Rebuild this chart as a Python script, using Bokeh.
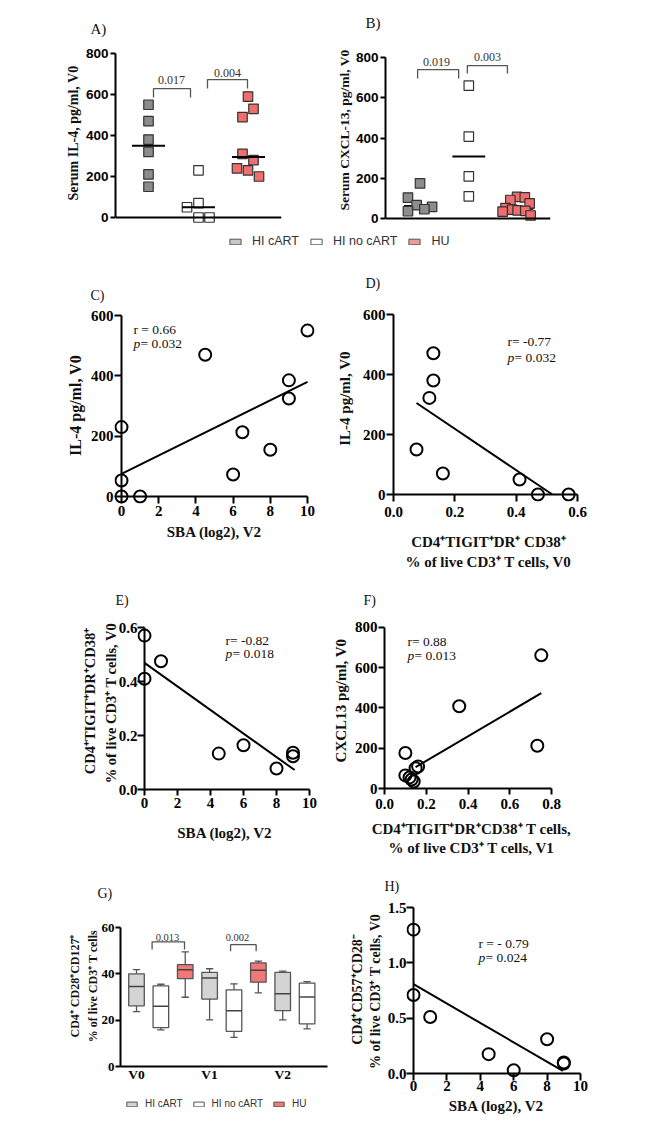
import math
from bokeh.plotting import figure
from bokeh.layouts import column, row
from bokeh.models import (Range1d, FixedTicker, NumeralTickFormatter, Label,
                          Legend, LegendItem, Title, Span)
from bokeh.embed import file_html
from bokeh.resources import INLINE

# ---------------------------------------------------------------- data
groups = ["HI cART", "HI no cART", "HU"]

# A) Serum IL-4, pg/ml, V0
a_hi_cart = [550, 470, 380, 320, 210, 150]
a_hi_no_cart = [230, 70, 50, 0, 0]
a_hu = [590, 530, 490, 310, 280, 240, 230, 200]
a_median = [350, 50, 295]
a_pvalues = ["0.017", "0.004"]
a_yticks = [0, 200, 400, 600, 800]

# B) Serum CXCL-13, pg/ml, V0
b_hi_cart = [175, 104, 66, 58, 46, 36]
b_hi_no_cart = [660, 407, 209, 110]
b_hu = [107, 105, 92, 75, 52, 44, 40, 38, 34, 15]
b_median = [62, 308, 48]
b_pvalues = ["0.019", "0.003"]
b_yticks = [0, 200, 400, 600, 800]

# C) IL-4 vs SBA
c_sba = [0, 0, 0, 1, 4.5, 6, 6.5, 8, 9, 9, 10]
c_il4 = [230, 53, 0, 0, 470, 73, 213, 155, 385, 325, 550]
c_fit_x = [0, 10]
c_fit_y = [75, 380]
c_stats = ["r = 0.66", "= 0.032"]
c_xticks = [0, 2, 4, 6, 8, 10]
c_yticks = [0, 200, 400, 600]

# D) IL-4 vs CD4+TIGIT+DR+CD38+
d_cells = [0.075, 0.117, 0.13, 0.13, 0.161, 0.411, 0.471, 0.571]
d_il4 = [150, 322, 471, 380, 70, 50, 0, 0]
d_fit_x = [0.075, 0.518]
d_fit_y = [305, 0]
d_stats = ["r= -0.77", "= 0.032"]
d_xticks = [0, 0.2, 0.4, 0.6]
d_yticks = [0, 200, 400, 600]

# E) CD4+TIGIT+DR+CD38+ vs SBA
e_sba = [0, 0, 1, 4.5, 6, 8, 9, 9]
e_cells = [0.57, 0.41, 0.475, 0.133, 0.164, 0.078, 0.136, 0.123]
e_fit_x = [0, 9.1]
e_fit_y = [0.469, 0.072]
e_stats = ["r= -0.82", "= 0.018"]
e_xticks = [0, 2, 4, 6, 8, 10]
e_yticks = [0, 0.2, 0.4, 0.6]

# F) CXCL13 vs CD4+TIGIT+DR+CD38+
f_cells = [0.10, 0.10, 0.12, 0.13, 0.14, 0.149, 0.161, 0.358, 0.732, 0.751]
f_cxcl13 = [176, 65, 55, 45, 35, 101, 109, 408, 212, 661]
f_fit_x = [0.149, 0.751]
f_fit_y = [106, 473]
f_stats = ["r= 0.88", "= 0.013"]
f_xticks = [0, 0.2, 0.4, 0.6, 0.8]
f_yticks = [0, 200, 400, 600, 800]

# G) CD4+CD28+CD127+ box plots
g_visits = ["V0", "V1", "V2"]
g_box_visit = [0, 0, 0, 1, 1, 1, 2, 2]
g_box_group = [0, 1, 2, 0, 1, 2, 0, 1]
g_max = [41.8, 35.5, 49.5, 42.2, 35.7, 45.5, 41.2, 36.6]
g_q3 = [40.0, 34.8, 44.0, 40.6, 33.1, 44.7, 40.6, 36.0]
g_med = [34.5, 26.0, 41.8, 38.2, 24.1, 41.5, 31.4, 30.0]
g_q1 = [26.2, 16.8, 37.9, 29.1, 15.2, 36.4, 24.1, 18.4]
g_min = [23.7, 15.8, 29.9, 20.1, 12.6, 31.8, 20.1, 16.2]
g_pvalues = ["0.013", "0.002"]
g_yticks = [0, 20, 40, 60]

# H) CD4+CD57+CD28- vs SBA
h_sba = [0, 0, 1, 4.5, 6, 8, 9, 9]
h_cells = [1.30, 0.71, 0.51, 0.175, 0.03, 0.31, 0.10, 0.09]
h_fit_x = [0, 8.94]
h_fit_y = [0.807, 0.024]
h_stats = ["r = - 0.79", "= 0.024"]
h_xticks = [0, 2, 4, 6, 8, 10]
h_yticks = [0, 0.5, 1.0, 1.5]

# ---------------------------------------------------------------- styles
SERIF = "Liberation Serif"
SANS = "Liberation Sans"
INK = "#111111"
EDGE = "#333333"
A_COLORS = ["#8c8c8c", "#ffffff", "#f06e6e"]
LEG_COLORS = ["#c8c8c8", "#ffffff", "#ee9a9a"]
G_COLORS = ["#d4d4d4", "#ffffff", "#f07878"]
BRACKET = "#555555"
PAD = 7


def panel(x0, y0, w, h, frame, xmap, ymap):
    fl, ft, fr, fb = frame
    (xv1, xp1), (xv2, xp2) = xmap
    (yv1, yp1), (yv2, yp2) = ymap
    kx = (xv2 - xv1) / (xp2 - xp1)
    ky = (yv2 - yv1) / (yp2 - yp1)

    def fx(px):
        return xv1 + (px - xp1) * kx

    def fy(py):
        return yv1 + (py - yp1) * ky

    p = figure(width=w, height=h, title=None,
               x_range=Range1d(fx(fl), fx(fr)), y_range=Range1d(fy(fb), fy(ft)),
               output_backend="svg", toolbar_location=None,
               min_border_left=fl - x0, min_border_right=x0 + w - fr,
               min_border_top=ft - y0, min_border_bottom=y0 + h - fb)
    p.outline_line_color = None
    p.grid.visible = False
    return p, fx, fy


def style_axis(ax, ticks, font, size, tick_out=6, tick_in=0, standoff=2, bounds=None,
               fmt=None, overrides=None, line=True):
    ax.ticker = FixedTicker(ticks=ticks)
    ax.axis_line_width = 2
    ax.axis_line_color = "black" if line else None
    ax.major_tick_line_width = 2
    ax.major_tick_line_color = "black" if (tick_out or tick_in) else None
    ax.major_tick_out = tick_out
    ax.major_tick_in = tick_in
    ax.minor_tick_line_color = None
    ax.major_label_text_font = font
    ax.major_label_text_font_size = f"{size}px"
    ax.major_label_text_font_style = "bold"
    ax.major_label_text_color = "black"
    ax.major_label_standoff = standoff
    if bounds is not None:
        ax.bounds = bounds
    if fmt:
        ax.formatter = NumeralTickFormatter(format=fmt)
    if overrides:
        ax.major_label_overrides = overrides


def axis_title(ax, label, size, standoff, line_height=1.2):
    ax.axis_label = label
    ax.axis_label_text_font = SERIF
    ax.axis_label_text_font_style = "bold"
    ax.axis_label_text_font_size = f"{size}px"
    ax.axis_label_text_color = INK
    ax.axis_label_standoff = standoff
    ax.axis_label_text_line_height = line_height


def panel_title(p, s, offset, size=14):
    p.add_layout(Title(text=s, align="left", offset=offset,
                       text_font=SERIF, text_font_size=f"{size}px",
                       text_font_style="normal", text_color=INK), "above")


def text(p, fx, fy, px, py, s, size, style="normal", align="center", color=INK):
    p.add_layout(Label(x=fx(px), y=fy(py), text=s, text_font=SERIF,
                       text_font_size=f"{size}px", text_font_style=style,
                       text_align=align, text_baseline="middle", text_color=color))


def stats(p, fx, fy, px, py_r, py_p, lines, size=13.5):
    text(p, fx, fy, px, py_r, lines[0], size, align="left")
    text(p, fx, fy, px, py_p, "p", size, style="italic", align="left")
    text(p, fx, fy, px + 0.52 * size, py_p, lines[1], size, align="left")


def bracket(p, xa, xb, y_leg, y_top):
    p.multi_line(xs=[[xa, xa, xb, xb]], ys=[[y_leg, y_top, y_top, y_leg]],
                 line_color=BRACKET, line_width=1.3)


def zero_axes(p, xticks, yticks, x_line=True, y_line=True):
    # axis lines drawn at the zero value, inside a frame padded so markers on them are whole
    if x_line:
        p.segment(x0=[xticks[0]], x1=[xticks[-1]], y0=[yticks[0]], y1=[yticks[0]],
                  line_color="black", line_width=2)
    if y_line:
        p.segment(x0=[xticks[0]], x1=[xticks[0]], y0=[yticks[0]], y1=[yticks[-1]],
                  line_color="black", line_width=2)


def circles(p, xs, ys, fit_x, fit_y):
    p.line(fit_x, fit_y, line_color="black", line_width=2)
    p.scatter(xs, ys, marker="circle", size=12, fill_color=None,
              line_color="black", line_width=2)


def solo(p):
    # wrap so that sibling plots do not get their frames aligned
    return column(p)


# ---------------------------------------------------------------- A
pA, ax_, ay_ = panel(0, 0, 328, 232, (115, 41, 281, 224),
                     ((1, 148), (2, 198)), ((0, 217), (800, 53)))
a_off = [[0, 0, 0, 0, 0, 0],
         [0, 0, -0.23, 0, 0.22],
         [-0.01, 0.1, -0.12, -0.12, 0.1, -0.23, -0.01, 0.21]]
for gi, vals in enumerate([a_hi_cart, a_hi_no_cart, a_hu]):
    pA.scatter([gi + 1 + o for o in a_off[gi]], vals, marker="square", size=9.5,
               fill_color=A_COLORS[gi], line_color=EDGE, line_width=1.2)
pA.segment(x0=[i + 1 - 0.33 for i in range(3)], x1=[i + 1 + 0.33 for i in range(3)],
           y0=a_median, y1=a_median, line_color="black", line_width=2)
pA.add_layout(Span(location=a_yticks[0], dimension="width", line_color="black", line_width=2))
bracket(pA, 1.1, 1.84, 585, 629)
bracket(pA, 2.18, 2.98, 629, 673)
text(pA, ax_, ay_, 171, 79, a_pvalues[0], 12, color="#333333")
text(pA, ax_, ay_, 227, 72, a_pvalues[1], 12, color="#333333")
style_axis(pA.yaxis[0], a_yticks, SANS, 13.5, tick_out=5, bounds=(a_yticks[0], a_yticks[-1]))
pA.xaxis.visible = False
axis_title(pA.yaxis[0], "Serum IL-4, pg/ml, V0", 14, 2)
panel_title(pA, "A)", -25, size=15)

# ---------------------------------------------------------------- B
pB, bx_, by_ = panel(328, 0, 320, 232, (385, 35, 550, 224),
                     ((1, 420), (2, 468.3)), ((0, 218), (800, 57)))
b_off = [[-0.01, -0.26, -0.08, 0.24, 0.08, -0.26],
         [0, 0, 0, 0],
         [0.0, 0.16, -0.14, 0.26, -0.24, -0.1, 0.01, 0.17, -0.3, 0.28]]
pB.segment(x0=[i + 1 - 0.34 for i in range(3)], x1=[i + 1 + 0.34 for i in range(3)],
           y0=b_median, y1=b_median, line_color="black", line_width=2)
for gi, vals in enumerate([b_hi_cart, b_hi_no_cart, b_hu]):
    pB.scatter([gi + 1 + o for o in b_off[gi]], vals, marker="square", size=9.5,
               fill_color=A_COLORS[gi], line_color=EDGE, line_width=1.2)
pB.add_layout(Span(location=b_yticks[0], dimension="width", line_color="black", line_width=2))
bracket(pB, 0.94, 1.79, 696, 740)
bracket(pB, 1.97, 2.8, 720, 760)
text(pB, bx_, by_, 436, 61, b_pvalues[0], 12, color="#333333")
text(pB, bx_, by_, 487, 56, b_pvalues[1], 12, color="#333333")
style_axis(pB.yaxis[0], b_yticks, SANS, 13.5, tick_out=5, bounds=(b_yticks[0], b_yticks[-1]))
pB.xaxis.visible = False
axis_title(pB.yaxis[0], "Serum CXCL-13, pg/ml, V0", 13.5, 1)
panel_title(pB, "B)", -20, size=15)

# ---------------------------------------------------------------- legend strip (A, B)
pL = figure(width=648, height=20, title=None, x_range=(0, 1), y_range=(0, 1),
            output_backend="svg", toolbar_location=None, min_border=0,
            x_axis_location=None, y_axis_location=None)
pL.outline_line_color = None
pL.grid.visible = False
leg_items = []
for gi, g in enumerate(groups):
    r = pL.quad(left=[float("nan")], right=[float("nan")], top=[float("nan")],
                bottom=[float("nan")], fill_color=LEG_COLORS[gi], line_color="#555555",
                line_width=1)
    leg_items.append(LegendItem(label=g, renderers=[r]))
pL.add_layout(Legend(items=leg_items, orientation="horizontal", location=(228, 4),
                     glyph_width=14, glyph_height=7, label_height=12, label_standoff=10,
                     spacing=10, padding=0, margin=0, border_line_color=None,
                     background_fill_alpha=0, label_text_font=SANS,
                     label_text_font_size="12.5px", label_text_color="#333333"), "center")

# ---------------------------------------------------------------- C
pC, cx_, cy_ = panel(0, 252, 328, 325, (114, 307, 314, 503),
                     ((0, 121), (10, 307)), ((0, 496), (600, 315)))
zero_axes(pC, c_xticks, c_yticks)
circles(pC, c_sba, c_il4, c_fit_x, c_fit_y)
style_axis(pC.yaxis[0], c_yticks, SERIF, 15, tick_out=0, tick_in=PAD, standoff=1, line=False)
style_axis(pC.xaxis[0], c_xticks, SERIF, 15, tick_out=0, tick_in=PAD, standoff=2, line=False)
axis_title(pC.yaxis[0], "IL-4 pg/ml, V0", 16, 4)
axis_title(pC.xaxis[0], "SBA (log2), V2", 15, 5)
panel_title(pC, "C)", -24)
stats(pC, cx_, cy_, 133, 329, 343, c_stats)

# ---------------------------------------------------------------- D
pD, dx_, dy_ = panel(328, 252, 320, 325, (393, 295, 583, 501),
                     ((0, 393), (0.6, 577)), ((0, 494), (600, 314)))
zero_axes(pD, d_xticks, d_yticks, y_line=False)
circles(pD, d_cells, d_il4, d_fit_x, d_fit_y)
style_axis(pD.yaxis[0], d_yticks, SERIF, 15, tick_out=7, standoff=1,
           bounds=(d_yticks[0], d_yticks[-1]))
style_axis(pD.xaxis[0], d_xticks, SERIF, 15, tick_out=0, tick_in=PAD, standoff=5,
           fmt="0.0", line=False)
axis_title(pD.yaxis[0], "IL-4 pg/ml, V0", 15, 7)
axis_title(pD.xaxis[0], "CD4\u207aTIGIT\u207aDR\u207a CD38\u207a\n% of live CD3\u207a T cells, V0",
           15, 14, line_height=1.3)
panel_title(pD, "D)", -28)
stats(pD, dx_, dy_, 507, 341, 357, d_stats)

# ---------------------------------------------------------------- E
pE, ex_, ey_ = panel(0, 577, 328, 281, (137, 612, 312, 789),
                     ((0, 144), (10, 309)), ((0, 789), (0.6, 627)))
zero_axes(pE, e_xticks, e_yticks, x_line=False)
circles(pE, e_sba, e_cells, e_fit_x, e_fit_y)
style_axis(pE.yaxis[0], e_yticks, SERIF, 15, tick_out=0, tick_in=PAD, standoff=0,
           fmt="0.0", line=False)
style_axis(pE.xaxis[0], e_xticks, SERIF, 15, tick_out=6, standoff=2,
           bounds=(e_xticks[0], e_xticks[-1]))
axis_title(pE.yaxis[0], "CD4\u207aTIGIT\u207aDR\u207aCD38\u207a\n% of  live CD3\u207a T cells, V0",
           14.5, -3, line_height=1.3)
axis_title(pE.xaxis[0], "SBA (log2), V2", 15, 14)
panel_title(pE, "E)", -22)
stats(pE, ex_, ey_, 225, 640, 653, e_stats)

# ---------------------------------------------------------------- F
pF, fx_, fy_ = panel(328, 577, 320, 281, (384, 612, 558, 790),
                     ((0, 384), (0.8, 551)), ((0, 790), (800, 627)))
circles(pF, f_cells, f_cxcl13, f_fit_x, f_fit_y)
style_axis(pF.yaxis[0], f_yticks, SERIF, 15, tick_out=6, standoff=1,
           bounds=(f_yticks[0], f_yticks[-1]))
style_axis(pF.xaxis[0], f_xticks, SERIF, 15, tick_out=6, standoff=4,
           bounds=(f_xticks[0], f_xticks[-1]), fmt="0.0")
axis_title(pF.yaxis[0], "CXCL13 pg/ml, V0", 15, 3)
axis_title(pF.xaxis[0], "CD4\u207aTIGIT\u207aDR\u207aCD38\u207a T cells,\n% of live CD3\u207a T cells, V1",
           15, 9, line_height=1.2)
panel_title(pF, "F)", -21)
stats(pF, fx_, fy_, 407, 641, 655, f_stats)

# ---------------------------------------------------------------- G
pG, gx_, gy_ = panel(0, 858, 328, 232, (120, 905, 327, 1066),
                     ((0, 136), (1, 160.37)), ((0, 1066), (60, 927)))
gx = [3 * v + g for v, g in zip(g_box_visit, g_box_group)]
BW, CW = 0.64, 0.3
WHISK = "#555555"
pG.segment(x0=gx, x1=gx, y0=g_q3, y1=g_max, line_color=WHISK, line_width=1.3)
pG.segment(x0=gx, x1=gx, y0=g_min, y1=g_q1, line_color=WHISK, line_width=1.3)
pG.segment(x0=[x - CW / 2 for x in gx], x1=[x + CW / 2 for x in gx], y0=g_max, y1=g_max,
           line_color=WHISK, line_width=1.3)
pG.segment(x0=[x - CW / 2 for x in gx], x1=[x + CW / 2 for x in gx], y0=g_min, y1=g_min,
           line_color=WHISK, line_width=1.3)
boxes = pG.vbar(x=gx, width=BW, bottom=g_q1, top=g_q3,
                fill_color=[G_COLORS[g] for g in g_box_group],
                line_color=WHISK, line_width=1.3)
pG.segment(x0=[x - BW / 2 for x in gx], x1=[x + BW / 2 for x in gx], y0=g_med, y1=g_med,
           line_color="#444444", line_width=1.5)
bracket(pG, 0.64, 1.97, 50.5, 53.8)
bracket(pG, 3.86, 4.91, 49.7, 52.6)
text(pG, gx_, gy_, 167, 937, g_pvalues[0], 10.5, color="#333333")
text(pG, gx_, gy_, 237, 937, g_pvalues[1], 10.5, color="#333333")
style_axis(pG.yaxis[0], g_yticks, SERIF, 13, tick_out=5, standoff=1,
           bounds=(g_yticks[0], g_yticks[-1]))
style_axis(pG.xaxis[0], [0, 3, 6], SERIF, 13.5, tick_out=0, standoff=0,
           overrides={0: g_visits[0], 3: g_visits[1], 6: g_visits[2]})
axis_title(pG.yaxis[0], "CD4\u207a CD28\u207aCD127\u207a\n% of live CD3\u207a T cells", 12, -1,
           line_height=1.25)
panel_title(pG, "G)", -23)

pGL = figure(width=328, height=32, title=None, x_range=(0, 1), y_range=(0, 1),
             output_backend="svg", toolbar_location=None, min_border=0,
             x_axis_location=None, y_axis_location=None)
pGL.outline_line_color = None
pGL.grid.visible = False
g_items = []
for gi, g in enumerate(groups):
    r = pGL.quad(left=[float("nan")], right=[float("nan")], top=[float("nan")],
                 bottom=[float("nan")], fill_color=G_COLORS[gi], line_color="#555555",
                 line_width=1)
    g_items.append(LegendItem(label=g, renderers=[r]))
pGL.add_layout(Legend(items=g_items, orientation="horizontal", location=(125, 13),
                      glyph_width=13, glyph_height=6, label_height=11, label_standoff=7,
                      spacing=9, padding=0, margin=0, border_line_color=None,
                      background_fill_alpha=0, label_text_font=SANS,
                      label_text_font_size="10px", label_text_color="#333333"), "center")

# ---------------------------------------------------------------- H
pH, hx_, hy_ = panel(328, 858, 320, 264, (406, 898, 586, 1080),
                     ((0, 413), (10, 580)), ((0, 1073), (1.5, 907)))
zero_axes(pH, h_xticks, h_yticks)
circles(pH, h_sba, h_cells, h_fit_x, h_fit_y)
style_axis(pH.yaxis[0], h_yticks, SERIF, 15, tick_out=0, tick_in=PAD, standoff=0,
           fmt="0.0", line=False)
style_axis(pH.xaxis[0], h_xticks, SERIF, 15, tick_out=0, tick_in=PAD, standoff=0, line=False)
axis_title(pH.yaxis[0], "CD4\u207aCD57\u207aCD28\u207b\n% of  live CD3\u207a T cells, V0", 14, 2,
           line_height=1.2)
axis_title(pH.xaxis[0], "SBA (log2), V2", 15, 4)
panel_title(pH, "H)", -22)
stats(pH, hx_, hy_, 478, 943, 957, h_stats)

layout = column(
    row(solo(pA), solo(pB)),
    solo(pL),
    row(solo(pC), solo(pD)),
    row(solo(pE), solo(pF)),
    row(column(solo(pG), solo(pGL)), solo(pH)),
)
open("out.html", "w").write(file_html(layout, INLINE))
